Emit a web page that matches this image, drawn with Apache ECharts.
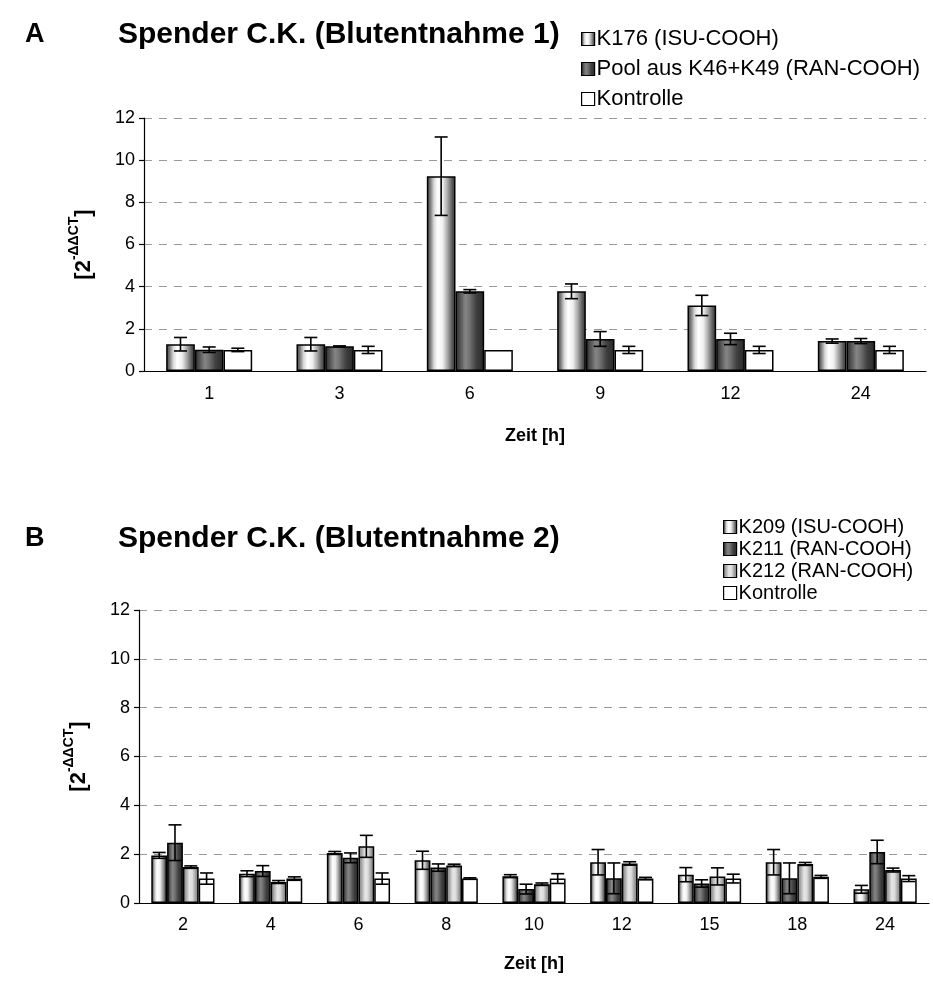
<!DOCTYPE html>
<html>
<head>
<meta charset="utf-8">
<script src="https://cdn.jsdelivr.net/npm/echarts@6/dist/echarts.min.js"></script>
<style>
  html, body { margin: 0; padding: 0; background: #fff; }
  #chart { width: 933px; height: 986px; }
</style>
</head>
<body>
<div id="chart"></div>
<script>
// Panel A – Blutentnahme 1
const timesA = ['1', '3', '6', '9', '12', '24'];
const k176 = [1.27, 1.27, 9.24, 3.78, 3.11, 1.42];
const k176Err = [0.32, 0.32, 1.86, 0.35, 0.48, 0.10];
const poolK46K49 = [1.01, 1.17, 3.78, 1.52, 1.52, 1.42];
const poolErr = [0.13, 0.02, 0.08, 0.35, 0.27, 0.12];
const kontrolleA = [1, 1, 1, 1, 1, 1];
const kontrolleAErr = [0.08, 0.17, 0, 0.17, 0.17, 0.17];

// Panel B – Blutentnahme 2
const timesB = ['2', '4', '6', '8', '10', '12', '15', '18', '24'];
const k209 = [1.95, 1.2, 2.05, 1.75, 1.1, 1.67, 1.16, 1.67, 0.56];
const k209Err = [0.12, 0.12, 0.06, 0.37, 0.06, 0.52, 0.29, 0.52, 0.16];
const k211 = [2.47, 1.31, 1.85, 1.45, 0.57, 1.01, 0.8, 1.01, 2.09];
const k211Err = [0.73, 0.22, 0.2, 0.15, 0.2, 0.63, 0.15, 0.63, 0.48];
const k212 = [1.47, 0.86, 2.32, 1.54, 0.77, 1.62, 1.09, 1.6, 1.35];
const k212Err = [0.05, 0.06, 0.45, 0.05, 0.05, 0.07, 0.35, 0.06, 0.08];
const kontrolleB = [1.0, 1.0, 1.0, 1.0, 1.0, 1.0, 1.0, 1.07, 1.0];
const kontrolleBErr = [0.23, 0.07, 0.23, 0.03, 0.2, 0.05, 0.18, 0.06, 0.12];

const yTicks = [0, 2, 4, 6, 8, 10, 12];

const FONT = 'Liberation Sans, Arial, sans-serif';

// Cylinder-like shading used by the bar fills
function shade(stops) {
  return new echarts.graphic.LinearGradient(0, 0, 1, 0,
    stops.map(s => ({ offset: s[0], color: s[1] })));
}
const fillLight = () => shade([[0, '#3a3a3a'], [0.12, '#7a7a7a'], [0.25, '#d8d8d8'], [0.38, '#ffffff'],
  [0.55, '#f0f0f0'], [0.72, '#a8a8a8'], [0.88, '#5a5a5a'], [1, '#333333']]);
const fillDark = () => shade([[0, '#262626'], [0.15, '#505050'], [0.35, '#858585'], [0.5, '#707070'],
  [0.72, '#404040'], [1, '#262626']]);
const fillMid = () => shade([[0, '#7c7c7c'], [0.2, '#a5a5a5'], [0.42, '#e6e6e6'], [0.6, '#dcdcdc'],
  [0.8, '#a0a0a0'], [1, '#7a7a7a']]);

function barSeries(name, values, fill, width, axis) {
  return {
    name, type: 'bar', xAxisIndex: axis, yAxisIndex: axis,
    data: values, barWidth: width, barGap: '0%',
    itemStyle: { color: fill, borderColor: '#000', borderWidth: 1.5 },
    emphasis: { disabled: true }
  };
}

// Error bars drawn on top of the bars, offset to each bar's slot in the group
function errSeries(values, errs, slot, count, widthFrac, axis) {
  return {
    type: 'custom', xAxisIndex: axis, yAxisIndex: axis, z: 5, silent: true,
    data: values.map((v, i) => [i, v, errs[i]]),
    renderItem(params, api) {
      const i = api.value(0), v = api.value(1), e = api.value(2);
      if (!e) return null;
      const band = api.size([1, 0])[0];
      const bw = band * widthFrac;
      const cx = api.coord([i, v])[0] + (slot - (count - 1) / 2) * bw;
      const yt = api.coord([i, v + e])[1];
      const yb = api.coord([i, v - e])[1];
      const cap = 6.5;
      const st = { stroke: '#000', lineWidth: 1.6 };
      return {
        type: 'group', children: [
          { type: 'line', shape: { x1: cx, y1: yt, x2: cx, y2: yb }, style: st },
          { type: 'line', shape: { x1: cx - cap, y1: yt, x2: cx + cap, y2: yt }, style: st },
          { type: 'line', shape: { x1: cx - cap, y1: yb, x2: cx + cap, y2: yb }, style: st }
        ]
      };
    }
  };
}

function xAxisDef(cats, grid, gap, margin) {
  return {
    type: 'category', gridIndex: grid, data: cats,
    name: 'Zeit [h]', nameLocation: 'middle', nameGap: gap,
    nameTextStyle: { fontFamily: FONT, fontSize: 18, fontWeight: 'bold', color: '#000' },
    axisLine: { lineStyle: { color: '#000', width: 1.2 } },
    axisTick: { length: 6, lineStyle: { color: '#000', width: 1.2 } },
    axisLabel: { fontFamily: FONT, fontSize: 18, color: '#000', margin }
  };
}

function yAxisDef(grid) {
  return {
    type: 'value', gridIndex: grid, min: yTicks[0], max: yTicks[yTicks.length - 1], interval: 2,
    name: '{b|[2}{s|-ΔΔCT}{b|]}', nameLocation: 'middle', nameGap: 49, nameRotate: 90,
    nameTextStyle: {
      color: '#000',
      rich: {
        b: { fontFamily: FONT, fontSize: 22, fontWeight: 'bold', color: '#000', verticalAlign: 'bottom', lineHeight: 28 },
        s: { fontFamily: FONT, fontSize: 14, fontWeight: 'bold', color: '#000', verticalAlign: 'top', lineHeight: 28 }
      }
    },
    axisLine: { show: true, lineStyle: { color: '#000', width: 1.2 } },
    axisTick: { show: true, length: 5, lineStyle: { color: '#000', width: 1.2 } },
    axisLabel: { fontFamily: FONT, fontSize: 18, color: '#000', margin: 9 },
    splitLine: { show: true, lineStyle: { color: '#9a9a9a', type: [8, 7], width: 1.2 } }
  };
}

const wA = 0.22, wB = 0.18;

const option = {
  animation: false,
  backgroundColor: '#fff',
  title: [
    { text: 'A', left: 20, top: 16, textStyle: { fontFamily: FONT, fontSize: 27, fontWeight: 'bold', color: '#000' } },
    { text: 'Spender C.K. (Blutentnahme 1)', left: 113, top: 15, textStyle: { fontFamily: FONT, fontSize: 30, fontWeight: 'bold', color: '#000' } },
    { text: 'B', left: 20, top: 520, textStyle: { fontFamily: FONT, fontSize: 27, fontWeight: 'bold', color: '#000' } },
    { text: 'Spender C.K. (Blutentnahme 2)', left: 113, top: 519, textStyle: { fontFamily: FONT, fontSize: 30, fontWeight: 'bold', color: '#000' } }
  ],
  legend: [
    {
      data: ['K176 (ISU-COOH)', 'Pool aus K46+K49 (RAN-COOH)', 'Kontrolle'],
      orient: 'vertical', left: 576, top: 23, itemWidth: 13, itemHeight: 13, itemGap: 8, icon: 'rect',
      selectedMode: false,
      itemStyle: { borderColor: '#000', borderWidth: 1.2 },
      textStyle: { fontFamily: FONT, fontSize: 22, color: '#000', padding: [0, 0, 0, -3] }
    },
    {
      data: ['K209 (ISU-COOH)', 'K211 (RAN-COOH)', 'K212 (RAN-COOH)', 'Kontrolle'],
      orient: 'vertical', left: 718, top: 512, itemWidth: 13, itemHeight: 13, itemGap: 2, icon: 'rect',
      selectedMode: false,
      itemStyle: { borderColor: '#000', borderWidth: 1.2 },
      textStyle: { fontFamily: FONT, fontSize: 20, color: '#000', padding: [0, 0, 0, -3] }
    }
  ],
  grid: [
    { left: 144, right: 7, top: 118, bottom: 615 },
    { left: 139, right: 4, top: 610, bottom: 83 }
  ],
  xAxis: [xAxisDef(timesA, 0, 56, 14), xAxisDef(timesB, 1, 52, 13)],
  yAxis: [yAxisDef(0), yAxisDef(1)],
  series: [
    barSeries('K176 (ISU-COOH)', k176, fillLight(), '22%', 0),
    barSeries('Pool aus K46+K49 (RAN-COOH)', poolK46K49, fillDark(), '22%', 0),
    barSeries('Kontrolle', kontrolleA, '#fff', '22%', 0),
    errSeries(k176, k176Err, 0, 3, wA, 0),
    errSeries(poolK46K49, poolErr, 1, 3, wA, 0),
    errSeries(kontrolleA, kontrolleAErr, 2, 3, wA, 0),

    barSeries('K209 (ISU-COOH)', k209, fillLight(), '18%', 1),
    barSeries('K211 (RAN-COOH)', k211, fillDark(), '18%', 1),
    barSeries('K212 (RAN-COOH)', k212, fillMid(), '18%', 1),
    barSeries('Kontrolle', kontrolleB, '#fff', '18%', 1),
    errSeries(k209, k209Err, 0, 4, wB, 1),
    errSeries(k211, k211Err, 1, 4, wB, 1),
    errSeries(k212, k212Err, 2, 4, wB, 1),
    errSeries(kontrolleB, kontrolleBErr, 3, 4, wB, 1)
  ]
};

const chart = echarts.init(document.getElementById('chart'), null, { renderer: 'canvas' });
chart.setOption(option);
</script>
</body>
</html>
